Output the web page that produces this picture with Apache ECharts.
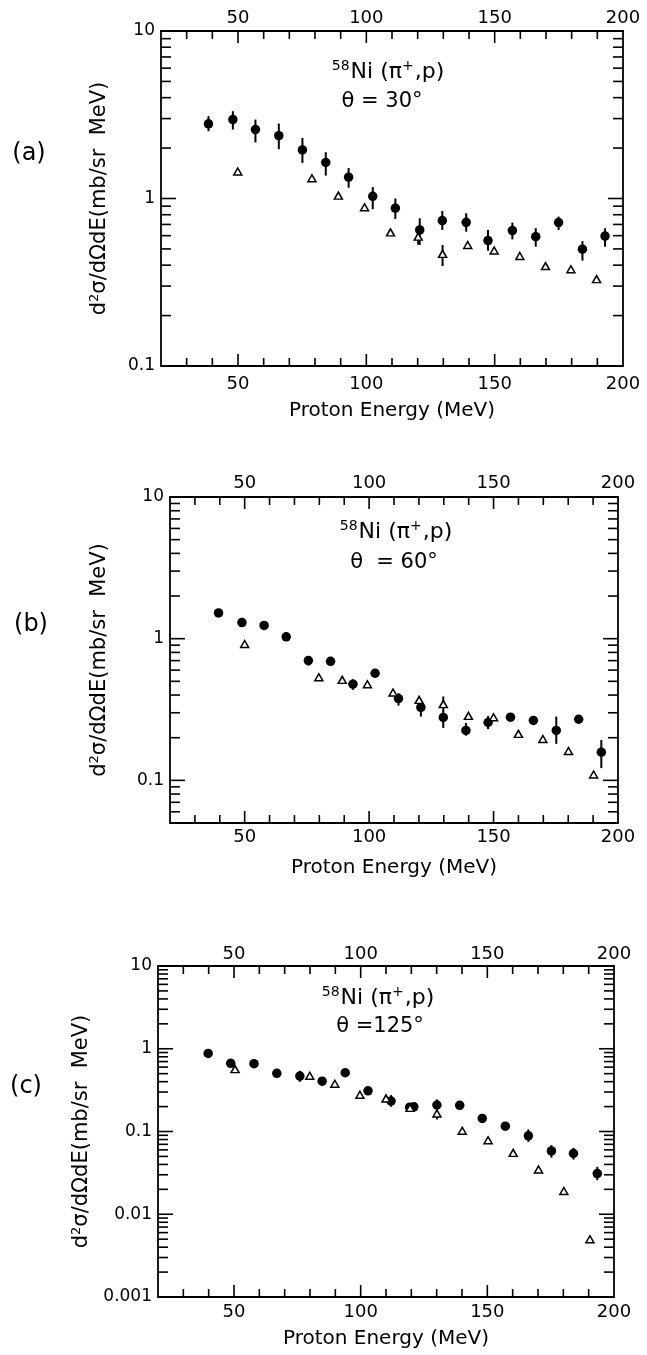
<!DOCTYPE html>
<html>
<head>
<meta charset="utf-8">
<script src="https://cdn.jsdelivr.net/npm/echarts@6/dist/echarts.min.js"></script>
<style>
html,body{margin:0;padding:0;background:#fff;}
#chart{width:647px;height:1355px;}
</style>
</head>
<body>
<div id="chart"></div>
<script>
// ---------- data ----------
const xTickVals = [50, 100, 150, 200];
const xTickLabels = ['50', '100', '150', '200'];
const yTickValsA = [0.1, 1, 10];
const yTickLabelsA = ['0.1', '1', '10'];
const yTickValsB = [0.1, 1, 10];
const yTickLabelsB = ['0.1', '1', '10'];
const yTickValsC = [0.001, 0.01, 0.1, 1, 10];
const yTickLabelsC = ['0.001', '0.01', '0.1', '1', '10'];

// panel (a) theta = 30 deg
const energyA_circ = [38.5, 48.0, 56.8, 65.9, 75.1, 84.2, 93.1, 102.5, 111.3, 120.8, 129.6, 138.9, 147.4, 156.9, 166.0, 174.9, 184.2, 193.0];
const sigmaA_circ = [2.79, 2.96, 2.58, 2.37, 1.95, 1.64, 1.34, 1.03, 0.875, 0.649, 0.738, 0.721, 0.561, 0.643, 0.592, 0.718, 0.498, 0.597];
const errLoA_circ = [2.52, 2.58, 2.16, 1.97, 1.63, 1.37, 1.16, 0.863, 0.755, 0.528, 0.649, 0.633, 0.488, 0.570, 0.516, 0.649, 0.426, 0.516];
const errHiA_circ = [3.10, 3.32, 2.96, 2.80, 2.30, 1.89, 1.52, 1.17, 1.00, 0.762, 0.843, 0.816, 0.649, 0.718, 0.664, 0.780, 0.558, 0.664];
const energyA_tri = [49.9, 78.8, 89.1, 99.3, 109.4, 120.2, 129.7, 139.5, 149.8, 159.8, 169.8, 179.7, 189.7];
const sigmaA_tri = [1.45, 1.32, 1.04, 0.887, 0.628, 0.592, 0.467, 0.528, 0.489, 0.454, 0.395, 0.378, 0.330];
const errLoA_tri = [null, null, null, null, null, 0.53, 0.395, null, null, null, null, null, null];
const errHiA_tri = [null, null, null, null, null, 0.64, 0.528, null, null, null, null, null, null];

// panel (b) theta = 60 deg
const energyB_circ = [39.5, 48.9, 57.8, 66.7, 75.6, 84.5, 93.5, 102.4, 111.8, 120.8, 129.8, 138.9, 147.8, 156.8, 166.0, 175.2, 184.2, 193.3];
const sigmaB_circ = [1.52, 1.30, 1.24, 1.03, 0.700, 0.692, 0.477, 0.570, 0.378, 0.327, 0.278, 0.225, 0.256, 0.279, 0.265, 0.225, 0.270, 0.158];
const errLoB_circ = [null, null, null, null, 0.646, null, 0.435, null, 0.337, 0.282, 0.234, 0.207, 0.230, null, null, 0.181, null, 0.122];
const errHiB_circ = [null, null, null, null, 0.746, null, 0.517, null, 0.412, 0.364, 0.311, 0.254, 0.285, null, null, 0.282, null, 0.193];
const energyB_tri = [50.0, 79.8, 89.2, 99.3, 109.6, 120.1, 129.8, 139.9, 150.0, 160.0, 169.8, 180.1, 190.2];
const sigmaB_tri = [0.917, 0.534, 0.512, 0.477, 0.417, 0.370, 0.345, 0.285, 0.279, 0.213, 0.196, 0.161, 0.110];
const errLoB_tri = [null, null, null, null, null, null, 0.306, null, null, null, null, null, null];
const errHiB_tri = [null, null, null, null, null, null, 0.391, null, null, null, null, null, null];

// panel (c) theta = 125 deg
const energyC_circ = [39.8, 48.7, 57.9, 66.9, 76.0, 84.8, 93.9, 102.9, 112.0, 119.3, 121.0, 130.1, 139.1, 148.0, 157.1, 166.2, 175.3, 184.0, 193.4];
const sigmaC_circ = [0.879, 0.666, 0.660, 0.504, 0.467, 0.406, 0.513, 0.310, 0.233, 0.196, 0.199, 0.209, 0.207, 0.144, 0.116, 0.0887, 0.0583, 0.0542, 0.0310];
const errLoC_circ = [null, null, null, null, 0.399, null, null, null, 0.199, null, null, 0.165, null, null, null, 0.075, 0.0484, 0.0458, 0.0258];
const errHiC_circ = [null, null, null, null, 0.542, null, null, null, 0.275, null, null, 0.244, null, null, null, 0.106, 0.0684, 0.0634, 0.0374];
const energyC_tri = [50.4, 79.9, 89.8, 99.7, 110.0, 119.5, 130.1, 140.1, 150.3, 160.2, 170.2, 180.2, 190.5];
const sigmaC_tri = [0.568, 0.471, 0.377, 0.278, 0.251, 0.193, 0.165, 0.102, 0.0785, 0.0552, 0.0347, 0.0191, 0.00499];
const errLoC_tri = [null, null, null, null, null, null, 0.140, null, null, null, null, null, null];
const errHiC_tri = [null, null, null, null, null, null, 0.199, null, null, null, null, null, null];

// ---------- layout ----------
const FONT = 'DejaVu Sans';
const panels = [
  {grid: {left: 161, top: 31, width: 462, height: 335}, yMin: 0.1, yMax: 10,
   yVals: yTickValsA, yLabs: yTickLabelsA,
   ec: energyA_circ, sc: sigmaA_circ, elc: errLoA_circ, ehc: errHiA_circ,
   et: energyA_tri, st: sigmaA_tri, elt: errLoA_tri, eht: errHiA_tri,
   xNameGap: 35, yNameGap: 50, botMargin: 9, topMargin: 4,
   label: '(a)', labelPos: [29, 154], ann1: [388, 71], ann2: [382, 102], thetaText: 'θ = 30°'},
  {grid: {left: 170, top: 497, width: 448, height: 326}, yMin: 0.05, yMax: 10,
   yVals: yTickValsB, yLabs: yTickLabelsB,
   ec: energyB_circ, sc: sigmaB_circ, elc: errLoB_circ, ehc: errHiB_circ,
   et: energyB_tri, st: sigmaB_tri, elt: errLoB_tri, eht: errHiB_tri,
   xNameGap: 35, yNameGap: 59, botMargin: 5, topMargin: 5,
   label: '(b)', labelPos: [31, 625], ann1: [396, 531], ann2: [394, 563], thetaText: 'θ  = 60°'},
  {grid: {left: 158, top: 966, width: 456, height: 331}, yMin: 0.001, yMax: 10,
   yVals: yTickValsC, yLabs: yTickLabelsC,
   ec: energyC_circ, sc: sigmaC_circ, elc: errLoC_circ, ehc: errHiC_circ,
   et: energyC_tri, st: sigmaC_tri, elt: errLoC_tri, eht: errHiC_tri,
   xNameGap: 32, yNameGap: 56, botMargin: 6, topMargin: 3,
   label: '(c)', labelPos: [26, 1087], ann1: [378, 997], ann2: [380, 1027], thetaText: 'θ =125°'}
];

const XMIN = 20, XMAX = 200;
const grids = [], xAxes = [], yAxes = [], series = [], graphics = [];
const lineStyle = {color: '#000', width: 1.8};

function fmtX(v) {
  const i = xTickVals.indexOf(v);
  return i >= 0 ? xTickLabels[i] : '';
}

panels.forEach((p, i) => {
  grids.push(Object.assign({outerBoundsMode: 'none', containLabel: false}, p.grid));
  const xBase = {
    gridIndex: i, type: 'value', min: XMIN, max: XMAX, interval: 10,
    axisLine: {show: true, onZero: false, lineStyle: lineStyle},
    axisTick: {show: false}, splitLine: {show: false},
  };
  xAxes.push(Object.assign({}, xBase, {
    position: 'bottom',
    axisLabel: {formatter: fmtX, color: '#000', fontSize: 18, fontFamily: FONT, margin: p.botMargin},
    name: 'Proton Energy (MeV)', nameLocation: 'middle', nameGap: p.xNameGap,
    nameTextStyle: {color: '#000', fontSize: 20, fontFamily: FONT}
  }));
  xAxes.push(Object.assign({}, xBase, {
    position: 'top',
    axisLabel: {formatter: fmtX, color: '#000', fontSize: 18, fontFamily: FONT, margin: p.topMargin}
  }));
  const yBase = {
    gridIndex: i, type: 'log', logBase: 10, min: p.yMin, max: p.yMax,
    axisLine: {show: true, onZero: false, lineStyle: lineStyle},
    axisTick: {show: false}, splitLine: {show: false}
  };
  yAxes.push(Object.assign({}, yBase, {
    position: 'left',
    axisLabel: {
      color: '#000', fontSize: 17, fontFamily: FONT, margin: 6,
      formatter: function (v) {
        for (let k = 0; k < p.yVals.length; k++) {
          if (Math.abs(Math.log10(v) - Math.log10(p.yVals[k])) < 1e-6) return p.yLabs[k];
        }
        return '';
      }
    },
    name: 'd{sup|2}σ/dΩdE(mb/sr  MeV)', nameLocation: 'middle', nameGap: p.yNameGap, nameRotate: 90,
    nameTextStyle: {color: '#000', fontSize: 21, fontFamily: FONT,
      rich: {sup: {fontSize: 13, fontFamily: FONT, color: '#000', padding: [0, 0, 10, 0]}}}
  }));
  yAxes.push(Object.assign({}, yBase, {position: 'right', axisLabel: {show: false}}));

  // frame ticks (all four sides)
  const xT = [];
  for (let v = 30; v < 200; v += 10) xT.push([v, v % 50 === 0 ? 12 : 8]);
  const yT = [];
  const d0 = Math.floor(Math.log10(p.yMin)), d1 = Math.ceil(Math.log10(p.yMax));
  for (let d = d0; d <= d1; d++) {
    for (let k = 1; k <= 9; k++) {
      const v = k * Math.pow(10, d);
      if (v > p.yMin * 1.0001 && v < p.yMax * 0.9999) yT.push([v, k === 1 ? 15 : 10]);
    }
  }
  series.push({
    type: 'custom', xAxisIndex: 2 * i, yAxisIndex: 2 * i, clip: false, silent: true,
    data: [[100, 1]],
    renderItem: function (params, api) {
      const children = [];
      const st = {stroke: '#000', lineWidth: 1.6};
      xT.forEach(t => {
        const b = api.coord([t[0], p.yMin]);
        const tp = api.coord([t[0], p.yMax]);
        children.push({type: 'line', shape: {x1: b[0], y1: b[1], x2: b[0], y2: b[1] - t[1]}, style: st});
        children.push({type: 'line', shape: {x1: tp[0], y1: tp[1], x2: tp[0], y2: tp[1] + t[1]}, style: st});
      });
      yT.forEach(t => {
        const l = api.coord([XMIN, t[0]]);
        const r = api.coord([XMAX, t[0]]);
        children.push({type: 'line', shape: {x1: l[0], y1: l[1], x2: l[0] + t[1], y2: l[1]}, style: st});
        children.push({type: 'line', shape: {x1: r[0], y1: r[1], x2: r[0] - t[1], y2: r[1]}, style: st});
      });
      return {type: 'group', children: children};
    }
  });

  // error bars
  const eb = [];
  p.ec.forEach((x, k) => { if (p.elc[k] != null) eb.push([x, p.elc[k], p.ehc[k]]); });
  p.et.forEach((x, k) => { if (p.elt[k] != null) eb.push([x, p.elt[k], p.eht[k]]); });
  series.push({
    type: 'custom', xAxisIndex: 2 * i, yAxisIndex: 2 * i, silent: true, z: 2,
    data: eb,
    renderItem: function (params, api) {
      const a = api.coord([api.value(0), api.value(1)]);
      const b = api.coord([api.value(0), api.value(2)]);
      return {type: 'line', shape: {x1: a[0], y1: a[1], x2: b[0], y2: b[1]}, style: {stroke: '#000', lineWidth: 2}};
    }
  });
  series.push({
    type: 'scatter', xAxisIndex: 2 * i, yAxisIndex: 2 * i, z: 3, silent: true,
    symbol: 'circle', symbolSize: 9.5,
    itemStyle: {color: '#000', opacity: 1},
    data: p.ec.map((x, k) => [x, p.sc[k]])
  });
  series.push({
    type: 'scatter', xAxisIndex: 2 * i, yAxisIndex: 2 * i, z: 4, silent: true,
    symbol: 'triangle', symbolSize: [8, 7],
    itemStyle: {color: '#fff', borderColor: '#000', borderWidth: 1.5, opacity: 1},
    data: p.et.map((x, k) => [x, p.st[k]])
  });

  // texts
  graphics.push({
    type: 'text', x: p.labelPos[0], y: p.labelPos[1],
    style: {text: p.label, fontSize: 24, fontFamily: FONT, fill: '#000', textAlign: 'center', textVerticalAlign: 'middle'}
  });
  graphics.push({
    type: 'text', x: p.ann1[0], y: p.ann1[1],
    style: {
      text: '{sup|58}{n|Ni (π}{sup|+}{n|,p)}', textAlign: 'center', textVerticalAlign: 'middle', fill: '#000',
      rich: {
        n: {fontSize: 22, fontFamily: FONT, fill: '#000', color: '#000', verticalAlign: 'bottom'},
        sup: {fontSize: 14, fontFamily: FONT, fill: '#000', color: '#000', verticalAlign: 'bottom', padding: [0, 1, 10, 0]}
      }
    }
  });
  graphics.push({
    type: 'text', x: p.ann2[0], y: p.ann2[1],
    style: {text: p.thetaText, fontSize: 21, fontFamily: FONT, fill: '#000', textAlign: 'center', textVerticalAlign: 'middle'}
  });
});

const chart = echarts.init(document.getElementById('chart'), null, {renderer: 'canvas'});
chart.setOption({
  backgroundColor: '#fff',
  animation: false,
  grid: grids,
  xAxis: xAxes,
  yAxis: yAxes,
  series: series,
  graphic: graphics
});
</script>
</body>
</html>
